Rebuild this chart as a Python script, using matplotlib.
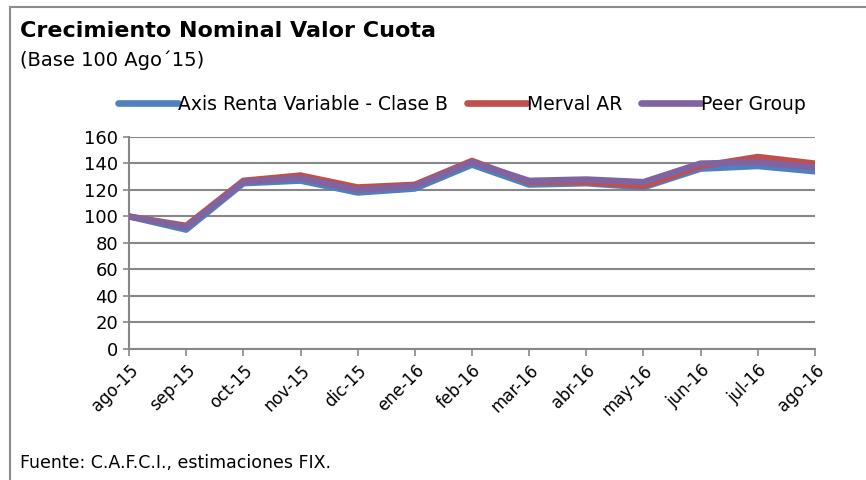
import matplotlib
matplotlib.use("Agg")
import matplotlib.pyplot as plt
from matplotlib.lines import Line2D

months = ["ago-15", "sep-15", "oct-15", "nov-15", "dic-15", "ene-16", "feb-16",
          "mar-16", "abr-16", "may-16", "jun-16", "jul-16", "ago-16"]
axis_rv = [100, 90, 125, 127, 118, 121, 139, 124, 125, 122, 136, 138, 134]
merval = [100, 93, 127, 131, 122, 124, 142, 126, 126, 123, 138, 145, 140]
peer = [100, 92, 126, 129, 120, 123, 141, 127, 128, 126, 140, 141, 137]
yticks = [0, 20, 40, 60, 80, 100, 120, 140, 160]

plt.rcParams['font.family'] = ['DejaVu Sans']

fig = plt.figure(figsize=(8.66, 4.8), dpi=100)
ax = fig.add_axes([0.149, 0.273, 0.792, 0.4416])

x = list(range(len(months)))
ax.plot(x, axis_rv, color="#4F81BD", lw=4.5, label="Axis Renta Variable - Clase B", solid_capstyle="round", zorder=3)
ax.plot(x, merval, color="#C0504D", lw=4.5, label="Merval AR", solid_capstyle="round", zorder=4)
ax.plot(x, peer, color="#8064A2", lw=4.5, label="Peer Group", solid_capstyle="round", zorder=5)

ax.set_xlim(0, len(months) - 1)
ax.set_ylim(0, 160)
ax.set_yticks(yticks)
ax.set_xticks(x)
ax.set_xticklabels(months, rotation=45, ha="right", rotation_mode="anchor", fontsize=12)
ax.tick_params(axis="y", labelsize=13, length=4, color="#878787", width=1.2, pad=4)
ax.tick_params(axis="x", length=5, color="#878787", width=1.2, pad=4)
ax.yaxis.grid(True, color="#878787", lw=1.5)
ax.set_axisbelow(True)
for s in ["top", "right"]:
    ax.spines[s].set_visible(False)
for s in ["left", "bottom"]:
    ax.spines[s].set_color("#878787")
    ax.spines[s].set_linewidth(1.5)

leg = fig.legend(handles=[
    Line2D([], [], color="#4F81BD", lw=4.8, solid_capstyle="round"),
    Line2D([], [], color="#C0504D", lw=4.8, solid_capstyle="round"),
    Line2D([], [], color="#8064A2", lw=4.8, solid_capstyle="round")],
    labels=["Axis Renta Variable - Clase B", "Merval AR", "Peer Group"],
    loc="center", bbox_to_anchor=(0.533, 0.783), ncol=3, frameon=False,
    fontsize=13.5, handlelength=3.2, handletextpad=0.0, columnspacing=1.0)

fig.text(0.023, 0.935, "Crecimiento Nominal Valor Cuota", fontsize=16, fontweight="bold", va="center")
fig.text(0.023, 0.875, "(Base 100 Ago\u00b415)", fontsize=14, va="center")
fig.text(0.023, 0.036, "Fuente: C.A.F.C.I., estimaciones FIX.", fontsize=12.5, va="center")

fig.add_artist(Line2D([0.012, 0.012], [0.0, 0.985], color="#8c8c8c", lw=1.5, transform=fig.transFigure))
fig.add_artist(Line2D([0.012, 1.0], [0.985, 0.985], color="#8c8c8c", lw=1.5, transform=fig.transFigure))

fig.savefig("out.png", dpi=100)
